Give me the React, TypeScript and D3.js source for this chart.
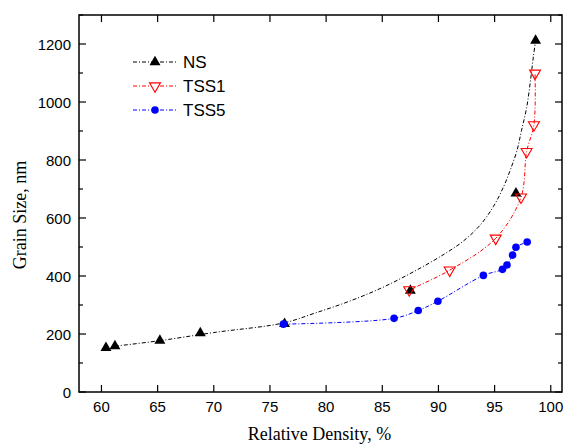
import React from "react";
import * as d3 from "d3";

// ---- data ----
const nsX = [60.4, 61.2, 65.2, 68.8, 76.3, 87.5, 96.9, 98.65];
const nsY = [152, 158, 177, 203, 235, 350, 685, 1212];

// smooth guide curve drawn through the NS series
const nsFitX = [61.2, 65, 70, 76.2, 79, 82, 85, 87.8, 90.5, 92.2, 93.7, 94.9, 95.8, 96.4, 97.0, 97.4, 97.85, 98.2, 98.45, 98.65];
const nsFitY = [158, 176, 205, 238, 272, 312, 360, 415, 475, 520, 575, 640, 708, 766, 834, 903, 980, 1076, 1156, 1212];

const tss1X = [87.4, 91.0, 95.1, 97.35, 97.85, 98.5, 98.6];
const tss1Y = [352, 420, 530, 672, 829, 921, 1099];

const tss5X = [76.2, 86.05, 88.2, 89.95, 94.0, 95.7, 96.1, 96.6, 96.9, 97.9];
const tss5Y = [234, 254, 281, 313, 402, 423, 438, 472, 499, 517];

const xTicks = [60, 65, 70, 75, 80, 85, 90, 95, 100];
const yTicks = [0, 200, 400, 600, 800, 1000, 1200];
const yMinorTicks = [100, 300, 500, 700, 900, 1100, 1300];

const legendNames = ["NS", "TSS1", "TSS5"];

const xTitle = "Relative Density, %";
const yTitle = "Grain Size, nm";

// ---- layout ----
const W = 565;
const H = 446;
const L = 79;
const T = 15;
const R = 562;
const B = 392;

const DASH = "4,2,1,2";

export default function App() {
  const x = d3.scaleLinear().domain([58, 101]).range([L, R]);
  const y = d3.scaleLinear().domain([0, 1300]).range([B, T]);

  const line = d3
    .line<[number, number]>()
    .x((d) => x(d[0]))
    .y((d) => y(d[1]))
    .curve(d3.curveCatmullRom.alpha(0.5));

  const zip = (a: number[], b: number[]) => a.map((v, i) => [v, b[i]] as [number, number]);

  const nsFit = zip(nsFitX, nsFitY);
  const ns = zip(nsX, nsY);
  const t1 = zip(tss1X, tss1Y);
  const t5 = zip(tss5X, tss5Y);

  const tri = d3.symbol().type(d3.symbolTriangle).size(52)() as string;

  const font = "Arial, 'Liberation Sans', Helvetica, sans-serif";
  const serif = "'Times New Roman', 'Liberation Serif', Times, serif";

  const legendY = [62, 86, 110];

  return (
    <svg
      width={W}
      height={H}
      style={{ position: "absolute", left: 0, top: 0, background: "#fff" }}
    >
      <rect x={0} y={0} width={W} height={H} fill="#fff" />

      {/* curves */}
      <path d={line(nsFit) || ""} fill="none" stroke="#000" strokeWidth={1} strokeDasharray={DASH} />
      <path d={line(t1) || ""} fill="none" stroke="#ff0000" strokeWidth={1} strokeDasharray={DASH} />
      <path d={line(t5) || ""} fill="none" stroke="#0000ff" strokeWidth={1} strokeDasharray={DASH} />

      {/* NS markers */}
      {ns.map((d, i) => (
        <path key={"ns" + i} d={tri} transform={`translate(${x(d[0])},${y(d[1])})`} fill="#000" />
      ))}
      {/* TSS5 markers */}
      {t5.map((d, i) => (
        <circle key={"t5" + i} cx={x(d[0])} cy={y(d[1])} r={3.8} fill="#0000ff" />
      ))}
      {/* TSS1 markers */}
      {t1.map((d, i) => (
        <path
          key={"t1" + i}
          d={tri}
          transform={`translate(${x(d[0])},${y(d[1])}) rotate(180)`}
          fill="none"
          stroke="#ff0000"
          strokeWidth={1.1}
        />
      ))}

      {/* frame */}
      <rect x={L} y={T} width={R - L} height={B - T} fill="none" stroke="#000" strokeWidth={1.5} />

      {/* x ticks */}
      {xTicks.map((t) => (
        <g key={"xt" + t}>
          <line x1={x(t)} x2={x(t)} y1={B} y2={B - 7} stroke="#000" strokeWidth={1.2} />
          <line x1={x(t)} x2={x(t)} y1={T} y2={T + 7} stroke="#000" strokeWidth={1.2} />
          <text x={x(t)} y={412} textAnchor="middle" fontFamily={font} fontSize={15} fill="#000">
            {t}
          </text>
        </g>
      ))}

      {/* y ticks */}
      {yTicks.map((t) => (
        <g key={"yt" + t}>
          <line x1={L} x2={L + 7} y1={y(t)} y2={y(t)} stroke="#000" strokeWidth={1.2} />
          <line x1={R} x2={R - 7} y1={y(t)} y2={y(t)} stroke="#000" strokeWidth={1.2} />
          <text x={71} y={y(t) + 5.5} textAnchor="end" fontFamily={font} fontSize={15} fill="#000">
            {t}
          </text>
        </g>
      ))}
      {yMinorTicks.map((t) => (
        <g key={"ym" + t}>
          <line x1={L} x2={L + 4} y1={y(t)} y2={y(t)} stroke="#000" strokeWidth={1.2} />
          <line x1={R} x2={R - 4} y1={y(t)} y2={y(t)} stroke="#000" strokeWidth={1.2} />
        </g>
      ))}

      {/* axis titles */}
      <text x={319.5} y={440} textAnchor="middle" fontFamily={serif} fontSize={18} fill="#000">
        {xTitle}
      </text>
      <text
        transform={`translate(26,215) rotate(-90)`}
        textAnchor="middle"
        fontFamily={serif}
        fontSize={18}
        fill="#000"
      >
        {yTitle}
      </text>

      {/* legend */}
      {legendNames.map((name, i) => {
        const ly = legendY[i];
        const color = i === 0 ? "#000" : i === 1 ? "#ff0000" : "#0000ff";
        return (
          <g key={"lg" + name}>
            <line x1={133} x2={177} y1={ly} y2={ly} stroke={color} strokeWidth={1} strokeDasharray={DASH} />
            {i === 0 && <path d={tri} transform={`translate(155,${ly})`} fill="#000" />}
            {i === 1 && (
              <path
                d={tri}
                transform={`translate(155,${ly}) rotate(180)`}
                fill="#fff"
                stroke="#ff0000"
                strokeWidth={1.1}
              />
            )}
            {i === 2 && <circle cx={155} cy={ly} r={3.8} fill="#0000ff" />}
            <text x={183} y={ly + 6} fontFamily={font} fontSize={17} fill="#000">
              {name}
            </text>
          </g>
        );
      })}
    </svg>
  );
}
